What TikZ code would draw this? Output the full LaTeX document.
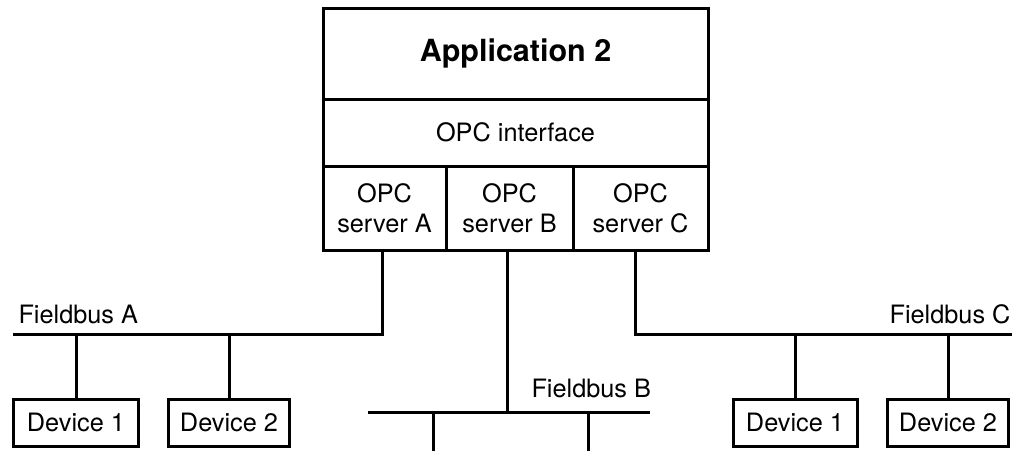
\documentclass[tikz,border=0pt]{standalone}
\usepackage{fontspec}
\setmainfont{TeX Gyre Heros}
\begin{document}
\begin{tikzpicture}[x=1pt,y=-1pt,
  line width=3pt,
  box/.style={draw=black, rectangle, inner sep=0pt, align=center,
    font=\fontsize{25.3}{30}\selectfont},
  lbl/.style={inner sep=0pt, font=\fontsize{25.3}{30}\selectfont},
  wire/.style={draw=black, line width=3pt}]
\useasboundingbox (0,0) rectangle (1022,450);
% top stack
\node[box, minimum width=385pt, minimum height=91pt, font=\fontsize{30.5}{36}\selectfont\bfseries] (app) at (515.5,53.5) {Application 2};
\node[box, minimum width=385pt, minimum height=67pt] (iface) at (515.5,132.5) {OPC interface};
\node[box, minimum width=123pt, minimum height=84pt] (srvA) at (384.5,208) {OPC\\server A};
\node[box, minimum width=127pt, minimum height=84pt] (srvB) at (509.5,208) {OPC\\server B};
\node[box, minimum width=135pt, minimum height=84pt] (srvC) at (640.5,208) {OPC\\server C};
% bus coordinates
\coordinate (busAl) at (13,334);
\coordinate (busAr) at (382,334);
\coordinate (busBl) at (368,412);
\coordinate (busBr) at (650,412);
\coordinate (busBm) at (507,412);
\coordinate (busCl) at (635,334);
\coordinate (busCr) at (1012,334);
\coordinate (dropB1) at (433,452);
\coordinate (dropB2) at (588,452);
% devices
\node[box, minimum width=125pt, minimum height=47pt] (devA1) at (76,422.5) {Device 1};
\node[box, minimum width=121pt, minimum height=47pt] (devA2) at (229,422.5) {Device 2};
\node[box, minimum width=124pt, minimum height=47pt] (devC1) at (795,422.5) {Device 1};
\node[box, minimum width=121pt, minimum height=47pt] (devC2) at (948,422.5) {Device 2};
% labels
\node[lbl, anchor=base west] (labA) at (17,323) {Fieldbus A};
\node[lbl, anchor=base east] (labC) at (1012,323) {Fieldbus C};
\node[lbl, anchor=base west] (labB) at (530,397) {Fieldbus B};
% wires
\draw[wire] (srvA.south -| busAr) -- (busAr) -- (busAl);
\draw[wire] (srvB.south -| busBm) -- (busBm);
\draw[wire] (busBl) -- (busBr);
\draw[wire] (srvC.south -| busCl) -- (busCl) -- (busCr);
\draw[wire] (devA1.north) -- (devA1.north |- busAl);
\draw[wire] (devA2.north) -- (devA2.north |- busAl);
\draw[wire] (devC1.north) -- (devC1.north |- busCl);
\draw[wire] (devC2.north) -- (devC2.north |- busCl);
\draw[wire] (dropB1 |- busBl) -- (dropB1);
\draw[wire] (dropB2 |- busBl) -- (dropB2);
\end{tikzpicture}
\end{document}
